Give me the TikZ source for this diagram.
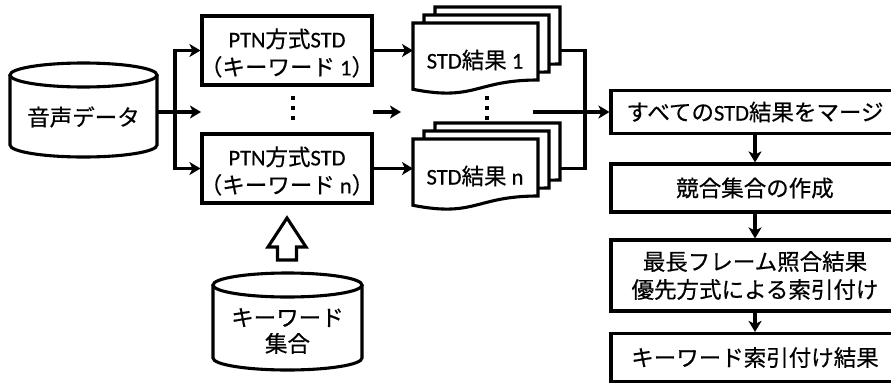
\documentclass[tikz,border=0pt]{standalone}
\usepackage{fontspec}
\setmainfont{Noto Sans CJK JP}[FakeBold=0.5]
\newfontfamily\lat{Carlito}[FakeBold=0.5]
\usetikzlibrary{arrows.meta}

% stacked "document" sheet: top-left corner (#1,#2), 125 wide, wavy bottom edge
\newcommand\docsheet[2]{%
  \filldraw[fill=white] (#1,#2) -- ({#1+125},#2) -- ({#1+125},{#2+57})
    .. controls ({#1+62.5},{#2+57}) and ({#1+62.5},{#2+78.6}) .. (#1,{#2+66.3}) -- cycle;}

% database cylinder: left x, right x, top y, bottom y, half height of the end ellipses
\newcommand\dbcyl[5]{%
  \filldraw[fill=white] (#1,{#3+#5}) -- (#1,{#4-#5})
    arc[start angle=180, end angle=360, x radius={(#2-#1)/2*1pt}, y radius=#5pt]
    -- (#2,{#3+#5});
  \draw ({(#1+#2)/2},{#3+#5}) ellipse[x radius={(#2-#1)/2*1pt}, y radius=#5pt];}

\begin{document}
\begin{tikzpicture}[x=1pt,y=-1pt,line width=3.1pt,line join=miter,
  jfont/.style={font=\fontsize{22.5pt}{28pt}\selectfont},
  txt/.style={jfont,align=center,inner sep=0pt},
  ptnbox/.style={draw,fill=white,minimum width=170pt,minimum height=69pt,inner sep=0pt},
  flowbox/.style={draw,fill=white,jfont,align=center,minimum width=288pt,inner sep=0pt},
  ghost/.style={inner sep=0pt,outer sep=0pt},
  tip/.tip={Stealth[length=11pt,width=13pt,inset=3pt]},
  arr/.style={-tip},
  twoarr/.style={tip-tip}]

\useasboundingbox (0,0) rectangle (891,383);
\clip (0,0) rectangle (891,383);

% ---- speech data store
\dbcyl{10}{157}{63}{157}{12}
\node[ghost,minimum width=147pt,minimum height=94pt] (c1) at (83.5,110) {};
\node[txt] (c1t) at (83.5,117) {音声データ};

% ---- keyword-specific PTN detectors
\node[ptnbox] (p1) at (287,50.5) {};
\node[txt] (p1t) at (287,53) {{\lat PTN}方式{\lat STD}\\（キーワード{\lat\ 1}）};
\node[ptnbox] (pn) at (287,168.5) {};
\node[txt] (pnt) at (287,171) {{\lat PTN}方式{\lat STD}\\（キーワード{\lat\ n}）};

% vertical ellipses
\foreach \yy in {98,108,118}{
  \fill (291,\yy-2.2) rectangle (295.4,\yy+2.2);
  \fill (485,\yy-2.2) rectangle (489.4,\yy+2.2);
}

% branching from the speech data
\coordinate (bx) at (175,112);
\coordinate (mid) at (201,112);
\draw[twoarr] (p1.west) -| (bx) |- (pn.west);
\draw[arr] (mid -| c1.east) -- (mid);

% ---- stacked STD results
\docsheet{435}{7}
\docsheet{424}{15}
\docsheet{413}{23}
\node[ghost,minimum width=125pt,minimum height=57pt] (d1) at (475.5,51.5) {};
\node[txt] (d1t) at (475,60) {{\lat STD}結果{\lat\ 1}};

\docsheet{435}{123}
\docsheet{424}{131}
\docsheet{413}{139}
\node[ghost,minimum width=125pt,minimum height=57pt] (dn) at (475.5,167.5) {};
\node[txt] (dnt) at (475,176) {{\lat STD}結果{\lat\ n}};

\draw[arr] (p1.east) -- (p1.east -| d1.west);
\draw[arr] (pn.east) -- (pn.east -| dn.west);

\coordinate (q1) at (373,112);
\coordinate (q2) at (401,112);
\draw[arr] (q1) -- (q2);

% ---- merging the results
\node[flowbox,minimum height=43pt] (m) at (755,112) {すべての{\lat STD}結果をマージ};
\node[flowbox,minimum height=48pt] (b2) at (755,188) {競合集合の作成};
\node[flowbox,minimum height=71pt] (b3) at (755,275.5) {最長フレーム照合結果\\優先方式による索引付け};
\node[flowbox,minimum height=48pt] (b4) at (755,357.5) {キーワード索引付け結果};

\coordinate (o1) at (560,50.5);
\coordinate (on) at (560,168.5);
\coordinate (jn) at (585,112);
\coordinate (dm) at (533,112);
\draw (o1) -| (jn) |- (on);
\draw[arr] (dm) -- (m.west);

\draw[arr] (m.south) -- (b2.north);
\draw[arr] (b2.south) -- (b3.north);
\draw[arr] (b3.south) -- (b4.north);

% ---- keyword set feeding the detectors
\dbcyl{213}{362}{273}{370}{12}
\node[ghost,minimum width=149pt,minimum height=97pt] (k) at (287.5,321.5) {};
\node[txt,font=\fontsize{22.5pt}{26pt}\selectfont] (kt) at (287.5,331) {キーワード\\集合};

% hollow block arrow
\draw (287,218) -- (306,247) -- (296.5,247) -- (296.5,260)
  -- (277.5,260) -- (277.5,247) -- (268,247) -- cycle;
\end{tikzpicture}
\end{document}
